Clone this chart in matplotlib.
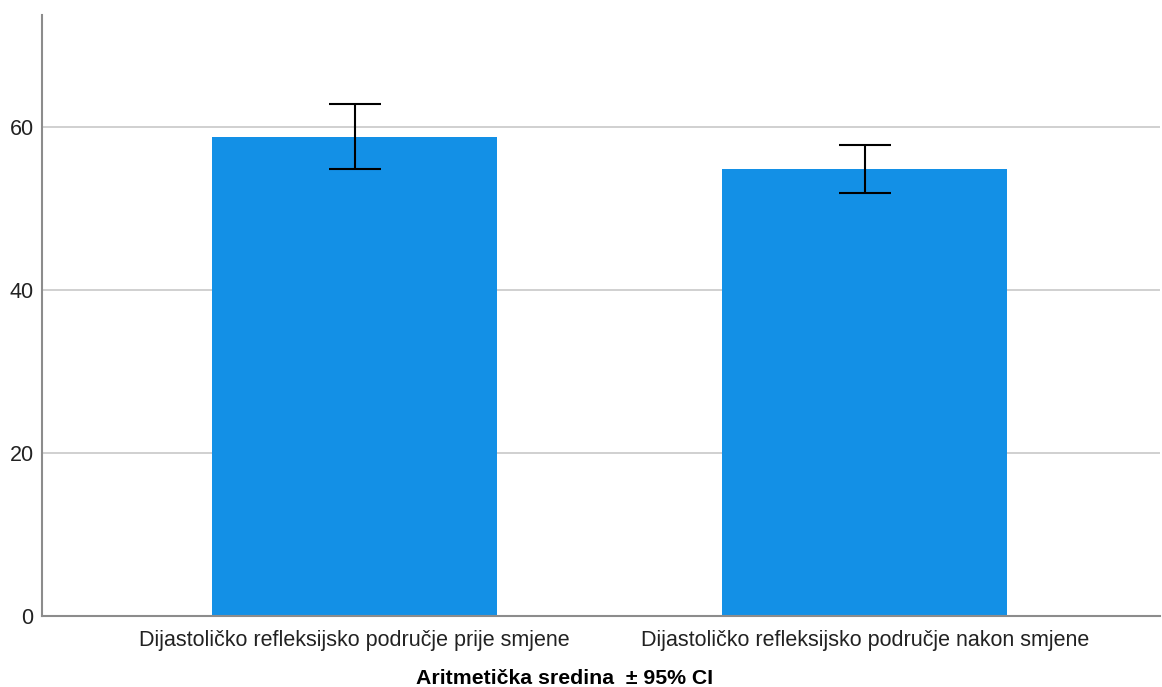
import matplotlib
matplotlib.use('Agg')
import matplotlib.pyplot as plt

categories = ['Dijastoličko refleksijsko područje prije smjene',
              'Dijastoličko refleksijsko područje nakon smjene']
means = [58.8, 54.8]
ci_low = [54.8, 51.9]
ci_high = [62.8, 57.8]
yticks = [0, 20, 40, 60]

plt.rcParams['font.family'] = ['Liberation Sans', 'DejaVu Sans']

W, H = 1162, 687
fig = plt.figure(figsize=(W / 100, H / 100), dpi=100)
ax = fig.add_axes([42 / W, (H - 616) / H, (1160 - 42) / W, (616 - 15) / H])

x = list(range(len(categories)))
err = [[m - lo for m, lo in zip(means, ci_low)],
       [hi - m for m, hi in zip(means, ci_high)]]
ax.bar(x, means, width=0.559, color='#1390e6', zorder=2)
ax.errorbar(x, means, yerr=err, fmt='none', ecolor='black', elinewidth=1.5,
            capsize=18.5, capthick=1.5, zorder=3)

ax.set_xlim(-0.613, 1.579)
ax.set_ylim(0, 73.7)
ax.set_yticks(yticks)
ax.set_xticks(x)
ax.set_xticklabels(categories)
ax.tick_params(axis='both', length=0, labelsize=15.5, colors='#222222')
ax.tick_params(axis='y', pad=6)
ax.tick_params(axis='x', pad=10)
ax.grid(axis='y', color='#c8c8c8', linewidth=1.2, zorder=0)
for s in ['top', 'right']:
    ax.spines[s].set_visible(False)
for s in ['left', 'bottom']:
    ax.spines[s].set_color('#8c8c8c')
    ax.spines[s].set_linewidth(1.5)

fig.text(565 / W, 1 - 678 / H, 'Aritmetička sredina  ± 95% CI', ha='center',
         va='center', fontsize=15.3, fontweight='bold', color='black')

fig.savefig('out.png', dpi=100)
